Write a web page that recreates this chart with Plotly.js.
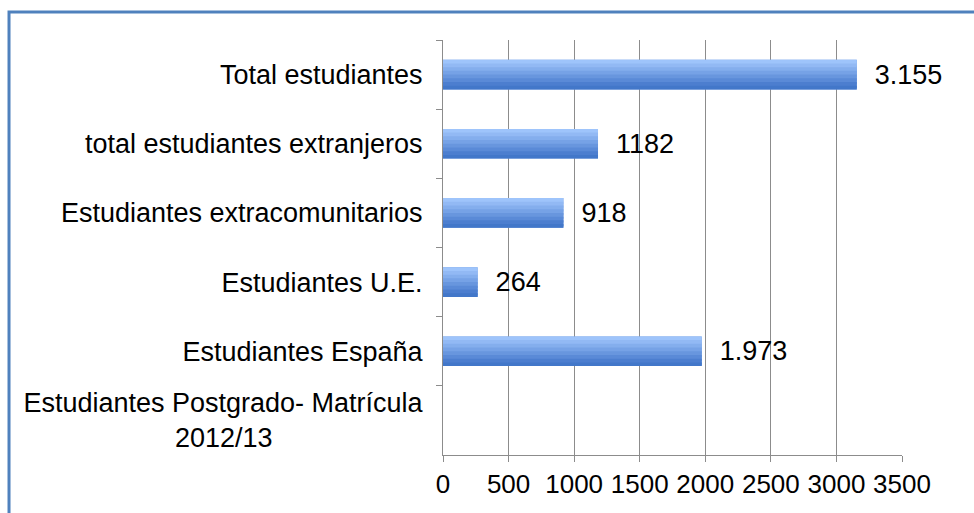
<!DOCTYPE html>
<html>
<head>
<meta charset="utf-8">
<script src="https://cdn.plot.ly/plotly-3.0.1.min.js"></script>
<style>
  body { margin: 0; background: #fff; }
  #chart { width: 974px; height: 513px; }
</style>
</head>
<body>
<div id="chart"></div>
<script>
// categories top to bottom
var categories = [
  "Total estudiantes",
  "total estudiantes extranjeros",
  "Estudiantes extracomunitarios",
  "Estudiantes U.E.",
  "Estudiantes España",
  "Estudiantes Postgrado- Matrícula<br>2012/13" + "&nbsp;".repeat(20)
];
var values = [3155, 1182, 918, 264, 1973, null];
var valueLabels = ["3.155", "1182", "918", "264", "1.973", ""];

// bar gradient, light on top, darker at bottom
var bandColors = ["#9ec4fb", "#92b9f4", "#84aeed", "#76a2e6", "#6896de", "#5a8ad7", "#4c7ecf", "#4277c9"];
var barWidth = 0.43;

var data = [];

// solid base bar so no seams show between the bands
data.push({
  type: "bar",
  orientation: "h",
  y: categories,
  x: values,
  width: barWidth,
  offset: -barWidth / 2,
  marker: {color: "#6896de", line: {width: 0}},
  hoverinfo: "none"
});

bandColors.forEach(function (c, i) {
  var w = barWidth / bandColors.length;
  var last = i === bandColors.length - 1;
  data.push({
    type: "bar",
    orientation: "h",
    y: categories,
    x: values,
    width: last ? w : w * 1.6,
    offset: -barWidth / 2 + i * w,
    marker: {color: c, line: {width: 0}},
    hoverinfo: "none"
  });
});

// labels on a transparent full-width bar
data.push({
  type: "bar",
  orientation: "h",
  y: categories,
  x: values,
  width: barWidth,
  offset: -barWidth / 2,
  text: valueLabels.map(t => t ? "\u00a0\u00a0" + t : ""),
  textposition: "outside",
  constraintext: "none",
  cliponaxis: false,
  textfont: {family: "Liberation Sans, Arial, sans-serif", size: 27, color: "#000"},
  marker: {color: "rgba(0,0,0,0)", line: {width: 0}},
  hoverinfo: "none"
});

var layout = {
  width: 974,
  height: 513,
  margin: {l: 443, r: 72, t: 40, b: 58},
  barmode: "overlay",
  paper_bgcolor: "#fff",
  plot_bgcolor: "#fff",
  showlegend: false,
  font: {family: "Liberation Sans, Arial, sans-serif", size: 27, color: "#000"},
  xaxis: {
    range: [0, 3500],
    dtick: 500,
    showgrid: true,
    gridcolor: "#8c8c8c",
    gridwidth: 1,
    zeroline: false,
    showline: true,
    linecolor: "#8c8c8c",
    ticks: "outside",
    ticklen: 6,
    tickcolor: "#8c8c8c",
    tickfont: {size: 26},
    fixedrange: true
  },
  yaxis: {
    autorange: "reversed",
    type: "category",
    showline: true,
    linecolor: "#8c8c8c",
    ticks: "outside",
    tickson: "boundaries",
    ticklen: 6,
    tickcolor: "#8c8c8c",
    showgrid: false,
    ticklabelstandoff: 14,
    tickfont: {size: 27}
  },
  shapes: [{
    type: "rect",
    xref: "paper", yref: "paper",
    x0: -0.9455, x1: 1.3,
    y0: -0.3, y1: 1.0675,
    line: {color: "#4f81bd", width: 3},
    layer: "below"
  }]
};

Plotly.newPlot("chart", data, layout, {displayModeBar: false, staticPlot: true});
</script>
</body>
</html>
